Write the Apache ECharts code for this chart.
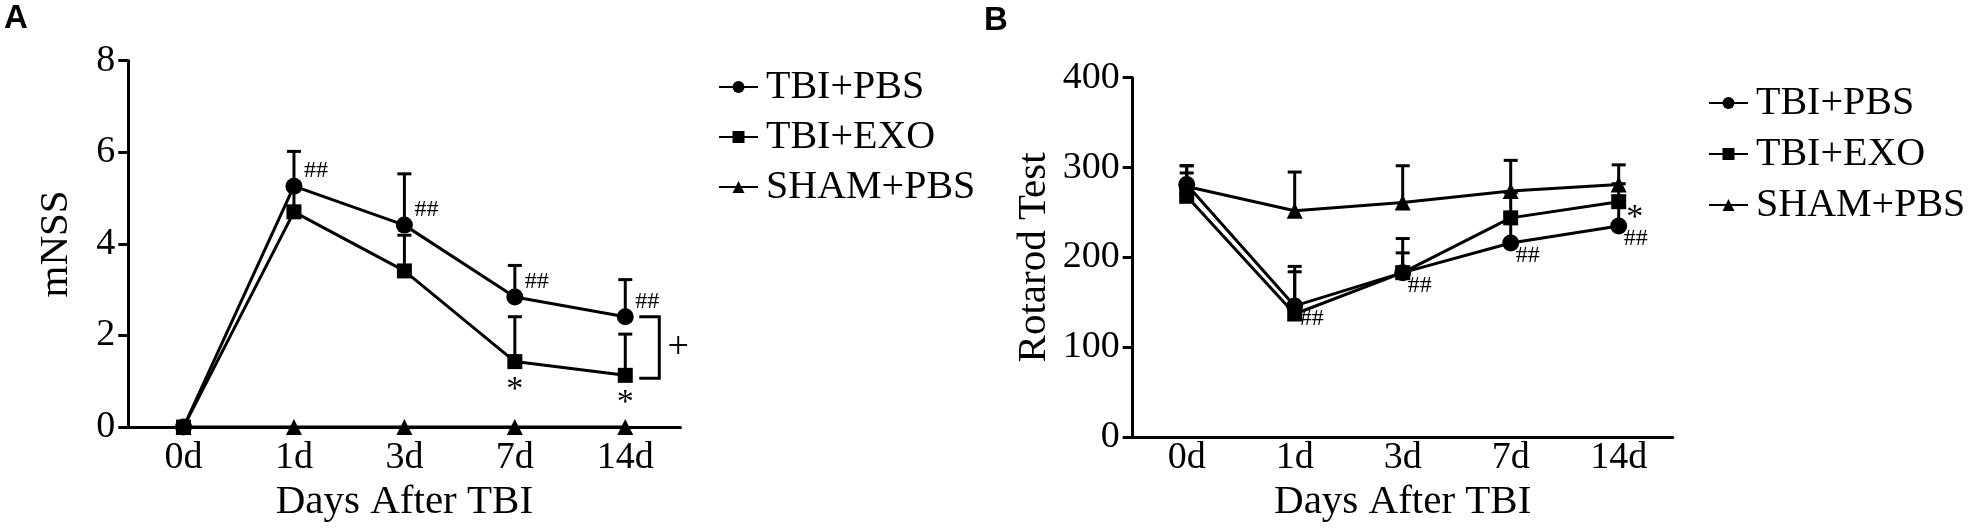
<!DOCTYPE html>
<html>
<head>
<meta charset="utf-8">
<script src="https://cdn.jsdelivr.net/npm/echarts@6/dist/echarts.min.js"></script>
<style>
html, body { margin: 0; padding: 0; background: #fff; }
#chart { width: 1969px; height: 528px; }
</style>
</head>
<body>
<div id="chart"></div>
<script>
// 数据
const days = ['0d', '1d', '3d', '7d', '14d'];
const groups = ['TBI+PBS', 'TBI+EXO', 'SHAM+PBS'];

// A: mNSS
const mnssPbs = [0, 5.26, 4.41, 2.84, 2.41];
const mnssPbsSd = [0, 0.76, 1.12, 0.69, 0.81];
const mnssExo = [0, 4.70, 3.41, 1.43, 1.13];
const mnssExoSd = [0, 0.50, 0.78, 0.98, 0.90];
const mnssSham = [0, 0, 0, 0, 0];
const mnssShamSd = [0, 0, 0, 0, 0];
const mnssTicks = [0, 2, 4, 6, 8];

// B: Rotarod Test
const rotPbs = [281, 146, 183, 216, 235];
const rotPbsSd = [21, 44, 38, 30, 26];
const rotExo = [268, 137, 183, 244, 262];
const rotExoSd = [26, 47, 22, 28, 20];
const rotSham = [279, 252, 261, 274, 281];
const rotShamSd = [23, 43, 41, 34, 22];
const rotTicks = [0, 100, 200, 300, 400];

// 显著性标记
const mnssPbsMark = ['', '##', '##', '##', '##'];
const mnssExoMark = ['', '', '', '*', '*'];
const rotPbsMark = ['', '##', '##', '##', '##'];
const rotExoMark = ['', '', '', '', '*'];
const mnssBracketDay = 4;
const mnssBracketMark = '+';

const SERIF = 'Liberation Serif';
const BLACK = '#000';

// 误差线 (只画上半)
function errorBarItem(means, sds) {
    return function (params, api) {
        const i = params.dataIndex;
        if (!sds[i]) return null;
        const base = api.coord([i, means[i]]);
        const top = api.coord([i, means[i] + sds[i]]);
        const st = { stroke: BLACK, lineWidth: 3 };
        return {
            type: 'group',
            children: [
                { type: 'line', shape: { x1: base[0], y1: base[1], x2: top[0], y2: top[1] }, style: st },
                { type: 'line', shape: { x1: top[0] - 7, y1: top[1], x2: top[0] + 7, y2: top[1] }, style: st }
            ]
        };
    };
}

// 文字标记
function markItem(means, marks, dx, dy, size) {
    return function (params, api) {
        const i = params.dataIndex;
        if (!marks[i]) return null;
        const p = api.coord([i, means[i]]);
        return {
            type: 'text',
            x: p[0] + dx,
            y: p[1] + dy,
            style: {
                text: marks[i],
                fill: BLACK,
                fontFamily: SERIF,
                fontSize: size,
                align: 'center',
                verticalAlign: 'middle'
            }
        };
    };
}

function errSeries(idx, means, sds) {
    return {
        type: 'custom',
        xAxisIndex: idx,
        yAxisIndex: idx,
        clip: false,
        silent: true,
        z: 1,
        renderItem: errorBarItem(means, sds),
        data: means.map((v, i) => [i, v + sds[i]])
    };
}

function markSeries(idx, means, marks, dx, dy, size) {
    return {
        type: 'custom',
        xAxisIndex: idx,
        yAxisIndex: idx,
        clip: false,
        silent: true,
        z: 5,
        renderItem: markItem(means, marks, dx, dy, size),
        data: means.map((v, i) => [i, v])
    };
}

const symbols = { 'TBI+PBS': ['circle', 17], 'TBI+EXO': ['rect', 15], 'SHAM+PBS': ['triangle', 16] };

function lineSeries(name, idx, values) {
    return {
        type: 'line',
        name: name,
        xAxisIndex: idx,
        yAxisIndex: idx,
        data: values,
        symbol: symbols[name][0],
        symbolSize: symbols[name][1],
        showAllSymbol: true,
        clip: false,
        z: 3,
        itemStyle: { color: BLACK },
        lineStyle: { color: BLACK, width: 3 }
    };
}

function xAxisOf(idx, labelMargin, nameGap) {
    return {
        type: 'category',
        gridIndex: idx,
        data: days,
        boundaryGap: true,
        axisLine: { lineStyle: { color: BLACK, width: 3 } },
        axisTick: { alignWithLabel: true, length: 8, lineStyle: { color: BLACK, width: 3 } },
        axisLabel: { fontFamily: SERIF, fontSize: 38, color: BLACK, margin: labelMargin },
        name: 'Days After TBI',
        nameLocation: 'middle',
        nameGap: nameGap,
        nameTextStyle: { fontFamily: SERIF, fontSize: 41, color: BLACK }
    };
}

function yAxisOf(idx, ticks, name, nameGap) {
    return {
        type: 'value',
        gridIndex: idx,
        min: ticks[0],
        max: ticks[ticks.length - 1],
        interval: ticks[1] - ticks[0],
        axisLine: { show: true, lineStyle: { color: BLACK, width: 3 } },
        axisTick: { show: true, length: 10, lineStyle: { color: BLACK, width: 3 } },
        splitLine: { show: false },
        axisLabel: { fontFamily: SERIF, fontSize: 38, color: BLACK, margin: 13 },
        name: name,
        nameLocation: 'middle',
        nameGap: nameGap,
        nameTextStyle: { fontFamily: SERIF, fontSize: 41, color: BLACK }
    };
}

function legendOf(left, top, gap) {
    return {
        orient: 'vertical',
        left: left,
        top: top,
        padding: 0,
        itemGap: gap,
        itemWidth: 39,
        itemHeight: 15,
        selectedMode: false,
        data: groups,
        textStyle: { fontFamily: SERIF, fontSize: 40, color: BLACK, lineHeight: 40, padding: [0, 0, 0, 3] }
    };
}

const chart = echarts.init(document.getElementById('chart'));

// A 图括号 "+"
const bracketSeries = {
    type: 'custom',
    xAxisIndex: 0,
    yAxisIndex: 0,
    clip: false,
    silent: true,
    z: 5,
    renderItem: function (params, api) {
        const p1 = api.coord([mnssBracketDay, mnssPbs[mnssBracketDay]]);
        const p2 = api.coord([mnssBracketDay, mnssExo[mnssBracketDay]]);
        const x0 = p1[0] + 14, x1 = p1[0] + 34;
        const y2 = p2[1] + 3;
        return {
            type: 'group',
            children: [
                { type: 'polyline', shape: { points: [[x0, p1[1]], [x1, p1[1]], [x1, y2], [x0, y2]] },
                  style: { stroke: BLACK, lineWidth: 3, fill: null } },
                { type: 'text', x: x1 + 19, y: (p1[1] + y2) / 2,
                  style: { text: mnssBracketMark, fill: BLACK, fontFamily: SERIF, fontSize: 38, align: 'center', verticalAlign: 'middle' } }
            ]
        };
    },
    data: [[mnssBracketDay, mnssPbs[mnssBracketDay]]]
};

chart.setOption({
    animation: false,
    backgroundColor: '#fff',
    color: [BLACK],
    grid: [
        { left: 128.3, top: 60.7, width: 552.2, height: 368.6 },
        { left: 1132.7, top: 77.7, width: 540, height: 360.6 }
    ],
    xAxis: [xAxisOf(0, 12, 52), xAxisOf(1, 2, 42)],
    yAxis: [yAxisOf(0, mnssTicks, 'mNSS', 52), yAxisOf(1, rotTicks, 'Rotarod Test', 78)],
    legend: [legendOf(718, 67, 10), legendOf(1708, 83, 11)],
    graphic: [
        { type: 'text', left: 4, top: 2, style: { text: 'A', font: 'bold 33px "Liberation Sans"', fill: BLACK } },
        { type: 'text', left: 984, top: 4, style: { text: 'B', font: 'bold 33px "Liberation Sans"', fill: BLACK } }
    ],
    series: [
        errSeries(0, mnssPbs, mnssPbsSd),
        errSeries(0, mnssExo, mnssExoSd),
        errSeries(0, mnssSham, mnssShamSd),
        lineSeries('SHAM+PBS', 0, mnssSham),
        lineSeries('TBI+PBS', 0, mnssPbs),
        lineSeries('TBI+EXO', 0, mnssExo),
        markSeries(0, mnssPbs, mnssPbsMark, 22, -15, 24),
        markSeries(0, mnssExo, mnssExoMark, 0, 28, 34),
        bracketSeries,

        errSeries(1, rotPbs, rotPbsSd),
        errSeries(1, rotExo, rotExoSd),
        errSeries(1, rotSham, rotShamSd),
        lineSeries('SHAM+PBS', 1, rotSham),
        lineSeries('TBI+PBS', 1, rotPbs),
        lineSeries('TBI+EXO', 1, rotExo),
        markSeries(1, rotPbs, rotPbsMark, 17, 13, 24),
        markSeries(1, rotExo, rotExoMark, 16, 16, 34)
    ]
});
</script>
</body>
</html>
